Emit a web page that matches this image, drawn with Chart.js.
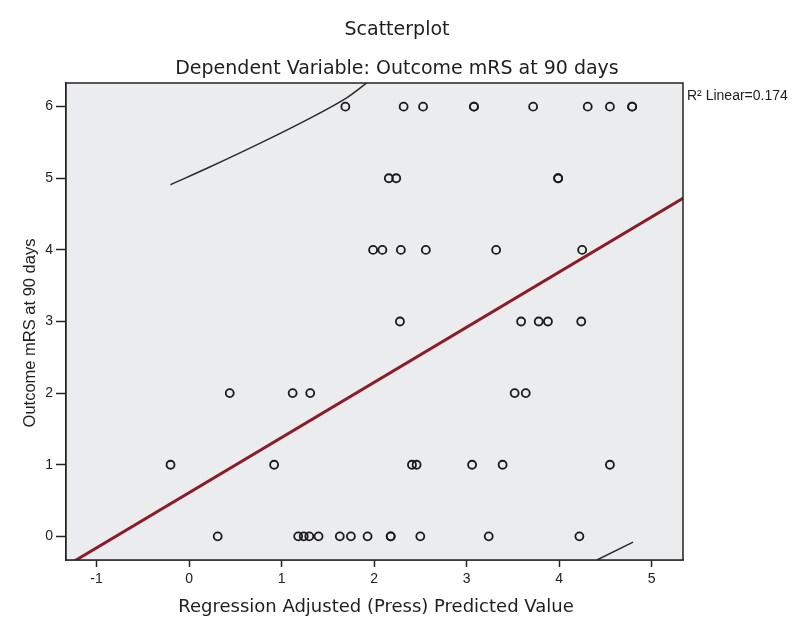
<!DOCTYPE html>
<html>
<head>
<meta charset="utf-8">
<script src="https://cdn.jsdelivr.net/npm/chart.js@4.4.1/dist/chart.umd.min.js"></script>
<style>
  html, body { margin: 0; padding: 0; background: #ffffff; }
  #chartBox { width: 794px; height: 628px; }
</style>
</head>
<body>
<div id="chartBox"><canvas id="scatterChart"></canvas></div>
<script>
// predicted value (x) and observed mRS (y) for every case
const predX = [
  1.69, 2.32, 2.53, 3.08, 3.08, 3.72, 4.31, 4.55, 4.79, 4.79,
  2.16, 2.24, 3.99, 3.99,
  1.99, 2.09, 2.29, 2.56, 3.32, 4.25,
  2.28, 3.59, 3.78, 3.88, 4.24,
  0.44, 1.12, 1.31, 3.52, 3.64,
  -0.20, 0.92, 2.41, 2.46, 3.06, 3.39, 4.55,
  0.31, 1.18, 1.24, 1.30, 1.40, 1.63, 1.75, 1.93, 2.18, 2.18, 2.50, 3.24, 4.22
];
const mrsY = [
  6, 6, 6, 6, 6, 6, 6, 6, 6, 6,
  5, 5, 5, 5,
  4, 4, 4, 4, 4, 4,
  3, 3, 3, 3, 3,
  2, 2, 2, 2, 2,
  1, 1, 1, 1, 1, 1, 1,
  0, 0, 0, 0, 0, 0, 0, 0, 0, 0, 0, 0, 0
];

// fit line end points (R2 linear = 0.174)
const fitX = [-1.35, 5.35];
const fitY = [-0.43, 4.73];

// interval curves
const upperX = [-0.20, 0.23, 0.77, 1.31, 1.70, 1.92];
const upperY = [4.91, 5.16, 5.49, 5.84, 6.12, 6.33];
const lowerX = [4.41, 4.80];
const lowerY = [-0.33, -0.08];

const xTicks = [-1, 0, 1, 2, 3, 4, 5];
const yTicks = [0, 1, 2, 3, 4, 5, 6];

const toPoints = (xs, ys) => xs.map((x, i) => ({ x, y: ys[i] }));

// grey plot box with a black frame, plus all the texts
const frameAndText = {
  id: 'frameAndText',
  beforeDatasetsDraw(chart) {
    const { ctx, chartArea: a } = chart;
    ctx.save();
    ctx.fillStyle = '#ebecee';
    ctx.fillRect(a.left, a.top, a.right - a.left, a.bottom - a.top);
    ctx.restore();
  },
  afterDraw(chart) {
    const { ctx, chartArea: a } = chart;
    ctx.save();
    ctx.strokeStyle = '#222';
    ctx.lineWidth = 1.5;
    ctx.strokeRect(a.left, a.top, a.right - a.left, a.bottom - a.top);

    ctx.fillStyle = '#1e1e1e';
    ctx.textAlign = 'center';
    ctx.textBaseline = 'middle';
    ctx.font = '19px "DejaVu Sans"';
    ctx.fillText('Scatterplot', 397, 30);
    ctx.font = '19px "DejaVu Sans"';
    ctx.fillText('Dependent Variable: Outcome mRS at 90 days', 397, 69);
    ctx.font = '18px "DejaVu Sans"';
    ctx.fillText('Regression Adjusted (Press) Predicted Value', 376, 607);

    ctx.textAlign = 'left';
    ctx.font = '14px "Liberation Sans"';
    ctx.fillText('R² Linear=0.174', 687, 96);

    // y axis title
    ctx.translate(30, 333);
    ctx.rotate(-Math.PI / 2);
    ctx.textAlign = 'center';
    ctx.font = '16.5px "Liberation Sans"';
    ctx.fillText('Outcome mRS at 90 days', 0, 0);
    ctx.restore();
  }
};

const ctx = document.getElementById('scatterChart').getContext('2d');

new Chart(ctx, {
  type: 'scatter',
  data: {
    datasets: [
      {
        label: 'Cases',
        data: toPoints(predX, mrsY),
        pointStyle: 'circle',
        pointRadius: 4,
        pointHoverRadius: 4,
        pointBorderWidth: 1.8,
        borderColor: '#1a1a1a',
        backgroundColor: 'rgba(0,0,0,0)',
        order: 0
      },
      {
        label: 'Fit',
        type: 'line',
        data: toPoints(fitX, fitY),
        borderColor: '#8c1c2c',
        borderWidth: 3,
        pointRadius: 0,
        fill: false,
        order: 1
      },
      {
        label: 'Upper',
        type: 'line',
        data: toPoints(upperX, upperY),
        borderColor: '#2a2a2a',
        borderWidth: 1.5,
        pointRadius: 0,
        tension: 0.3,
        fill: false,
        order: 2
      },
      {
        label: 'Lower',
        type: 'line',
        data: toPoints(lowerX, lowerY),
        borderColor: '#2a2a2a',
        borderWidth: 1.5,
        pointRadius: 0,
        fill: false,
        order: 2
      }
    ]
  },
  options: {
    responsive: true,
    maintainAspectRatio: false,
    animation: false,
    layout: {
      padding: { top: 83, right: 111, left: 0, bottom: 0 }
    },
    scales: {
      x: {
        type: 'linear',
        min: -1.33,
        max: 5.34,
        afterBuildTicks: (scale) => { scale.ticks = xTicks.map(v => ({ value: v })); },
        afterFit: (scale) => { scale.height = 68; },
        grid: {
          drawOnChartArea: false,
          drawTicks: true,
          tickLength: 7,
          tickWidth: 1.5,
          color: '#222'
        },
        border: { display: true, color: '#222', width: 1.5 },
        ticks: {
          color: '#222',
          padding: 4,
          font: { family: 'Liberation Sans', size: 14 }
        }
      },
      y: {
        type: 'linear',
        min: -0.33,
        max: 6.33,
        afterBuildTicks: (scale) => { scale.ticks = yTicks.map(v => ({ value: v })); },
        afterFit: (scale) => { scale.width = 66; },
        grid: {
          drawOnChartArea: false,
          drawTicks: true,
          tickLength: 10,
          tickWidth: 1.5,
          color: '#222'
        },
        border: { display: true, color: '#222', width: 1.5 },
        ticks: {
          color: '#222',
          padding: 3,
          font: { family: 'Liberation Sans', size: 14 }
        }
      }
    },
    plugins: {
      legend: { display: false },
      title: { display: false },
      tooltip: { enabled: false }
    }
  },
  plugins: [frameAndText]
});
</script>
</body>
</html>
